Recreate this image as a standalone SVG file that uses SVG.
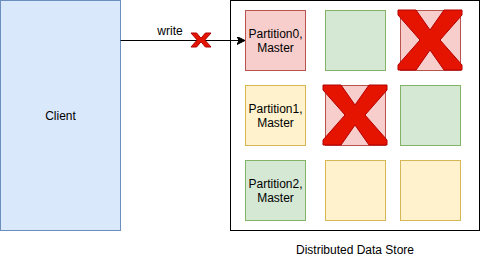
<svg xmlns="http://www.w3.org/2000/svg" width="481" height="261" viewBox="0 0 481 261">
  <defs>
    <marker id="arrow" markerUnits="userSpaceOnUse" markerWidth="10" markerHeight="10" refX="8" refY="4" orient="auto">
      <path d="M0,0 L8,4 L0,8 L2,4 Z" fill="#000000" stroke="#000000" stroke-width="1"/>
    </marker>
    <style>
      text { font-family: "Liberation Sans", Arial, Helvetica, sans-serif; font-size: 12px; fill: #000000; text-anchor: middle; }
      .red { fill: #f8cecc; stroke: #b85450; stroke-width: 1; }
      .green { fill: #d5e8d4; stroke: #82b366; stroke-width: 1; }
      .yellow { fill: #fff2cc; stroke: #d6b656; stroke-width: 1; }
      .blue { fill: #dae8fc; stroke: #6c8ebf; stroke-width: 1; }
      .cross { fill: #e51400; stroke: #b20000; stroke-width: 1; stroke-linejoin: miter; }
      .edge { fill: none; stroke: #000000; stroke-width: 1; }
    </style>
  </defs>
  <rect width="481" height="261" fill="#ffffff"/>

  <g id="client">
    <rect class="blue" x="0.5" y="0.5" width="120" height="230"/>
    <text x="60.5" y="119.5">Client</text>
  </g>

  <g id="store">
    <rect x="230.5" y="0.5" width="249" height="230" fill="#ffffff" stroke="#000000" stroke-width="1"/>
    <text x="355" y="254">Distributed Data Store</text>
  </g>

  <g id="p0-master">
    <rect class="red" x="245.5" y="10.5" width="60" height="60"/>
    <text x="275.5" y="37.5">Partition0,</text>
    <text x="275.5" y="51.5">Master</text>
  </g>
  <g id="p0-replica1">
    <rect class="green" x="325.5" y="10.5" width="60" height="60"/>
  </g>
  <g id="p0-replica2">
    <rect class="red" x="400.5" y="10.5" width="60" height="60"/>
    <polygon class="cross" points="398,10 416,10 430,30 444,10 462,10 462,15 440,40 462,65 462,70 444,70 430,50 416,70 398,70 398,65 420,40 398,15"/>
  </g>

  <g id="p1-master">
    <rect class="yellow" x="245.5" y="85.5" width="60" height="60"/>
    <text x="275.5" y="112.5">Partition1,</text>
    <text x="275.5" y="126.5">Master</text>
  </g>
  <g id="p1-replica1">
    <rect class="red" x="325.5" y="85.5" width="60" height="60"/>
    <polygon class="cross" points="323,85 341,85 355,105 369,85 387,85 387,90 365,115 387,140 387,145 369,145 355,125 341,145 323,145 323,140 345,115 323,90"/>
  </g>
  <g id="p1-replica2">
    <rect class="green" x="400.5" y="85.5" width="60" height="60"/>
  </g>

  <g id="p2-master">
    <rect class="green" x="245.5" y="160.5" width="60" height="60"/>
    <text x="275.5" y="187.5">Partition2,</text>
    <text x="275.5" y="201.5">Master</text>
  </g>
  <g id="p2-replica1">
    <rect class="yellow" x="325.5" y="160.5" width="60" height="60"/>
  </g>
  <g id="p2-replica2">
    <rect class="yellow" x="400.5" y="160.5" width="60" height="60"/>
  </g>

  <g id="connectors">
    <line class="edge" x1="120.5" y1="40.5" x2="245" y2="40.5" marker-end="url(#arrow)"/>
    <text x="170" y="35">write</text>
    <polygon class="cross" points="191,33 196.6,33 201,38.2 205.4,33 211,33 204.8,40 211,47 205.4,47 201,41.8 196.6,47 191,47 197.2,40"/>
  </g>
</svg>
